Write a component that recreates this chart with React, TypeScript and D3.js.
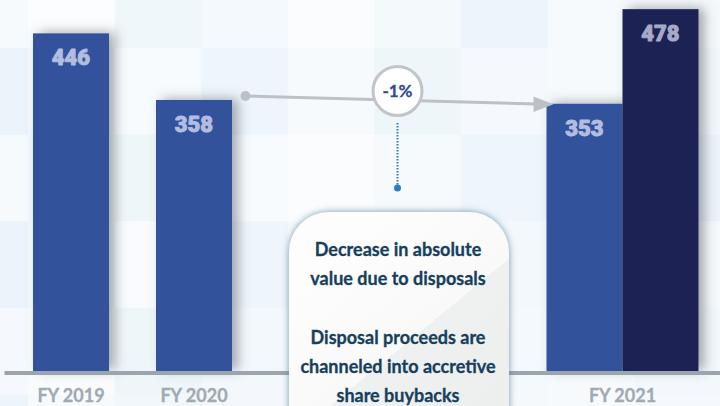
import React from 'react';
import * as d3 from 'd3';

// ---- data ----
const categories = ['FY 2019', 'FY 2020', 'FY 2021'];
const primaryValues = [446, 358, 353];
const secondaryValues = [null, null, 478];
const changeLabel = '-1%';
const noteLines = [
  'Decrease in absolute',
  'value due to disposals',
  '',
  'Disposal proceeds are',
  'channeled into accretive',
  'share buybacks',
];
const tileColors = [
  ['#f7fafd', '#fbfdfe', '#eff7fa', '#f3f9fc', '#fafcfe', '#f4f9fc', '#edf5fc', '#f7fafd', '#f5f9fc'],
  ['#eaf4fa', '#f5f9fc', '#f8fbfe', '#eef5fc', '#f7fafd', '#eff6fa', '#f5f9fd', '#f6fafd', '#f2f7fb'],
  ['#f6fafd', '#f3f8fc', '#eff6fa', '#f7fbfd', '#fafcfe', '#f6fafd', '#eef6fc', '#f7fafd', '#ecf3f9'],
  ['#eaf4fa', '#f4f9fc', '#f9fbfe', '#eef5fb', '#f6fafd', '#f2f8fc', '#f3f8fd', '#f6fafd', '#f6f9fc'],
  ['#f5f9fd', '#f9fbfd', '#eff6fa', '#f3f8fc', '#f6fafd', '#f2f7fb', '#f4f9fd', '#f7fafd', '#f3f8fc'],
  ['#edf5fa', '#f7fafd', '#f1f7fa', '#f4f8fc', '#f6fafd', '#f2f7fb', '#f5f9fc', '#f7fafd', '#f5f9fd'],
];

const W = 720;
const H = 406;
const BASE = 371;
const BAR_W = 76;

export default function App() {
  const y = d3.scaleLinear().domain([0, 500]).range([BASE, BASE - 378.5]);
  const xCenter = d3.scaleOrdinal<string, number>().domain(categories).range([71, 194, 622.5]);
  const inner = d3
    .scaleBand<string>()
    .domain(['primary', 'secondary'])
    .range([xCenter('FY 2021') - BAR_W, xCenter('FY 2021') + BAR_W])
    .padding(0);

  const tile = 86.6;
  const tx = d3.scaleLinear().domain([0, 1]).range([-58.6, -58.6 + tile]);
  const ty = d3.scaleLinear().domain([0, 1]).range([-38.6, -38.6 + tile]);

  type Bar = { key: string; x: number; w: number; v: number; fill: string; label: string };
  const bars: Bar[] = [];
  categories.forEach((c, i) => {
    const sv = secondaryValues[i];
    if (sv == null) {
      bars.push({ key: c, x: xCenter(c) - BAR_W / 2, w: BAR_W, v: primaryValues[i], fill: '#32529b', label: '#b4bde0' });
    } else {
      bars.push({ key: c + 'p', x: inner('primary')!, w: inner.bandwidth(), v: primaryValues[i], fill: '#32529b', label: '#b4bde0' });
      bars.push({ key: c + 's', x: inner('secondary')!, w: inner.bandwidth(), v: sv, fill: '#1d2352', label: '#a6a9c7' });
    }
  });

  const lineStart: [number, number] = [xCenter('FY 2020') + BAR_W / 2 + 13.5, y(358) - 4];
  const lineEnd: [number, number] = [inner('primary')! - 11, y(358) + 4];
  const circ = { cx: 397.5, cy: 91, r: 24.5 };

  return (
    <svg
      width={W}
      height={H}
      style={{ position: 'absolute', left: 0, top: 0, display: 'block' }}
      viewBox={`0 0 ${W} ${H}`}
    >
      <defs>
        <filter id="barShadow" x="-30%" y="-10%" width="170%" height="130%">
          <feDropShadow dx="6" dy="-1" stdDeviation="6" floodColor="#4b5560" floodOpacity="0.5" />
        </filter>
        <filter id="boxShadow" x="-20%" y="-20%" width="140%" height="140%">
          <feDropShadow dx="0" dy="0" stdDeviation="3.5" floodColor="#4f7d94" floodOpacity="0.8" />
        </filter>
        <linearGradient id="boxFill" gradientUnits="userSpaceOnUse" x1="346" y1="242" x2="494" y2="422">
          <stop offset="0" stopColor="#fdfdfd" />
          <stop offset="0.5" stopColor="#f9f9f9" />
          <stop offset="0.5" stopColor="#eff1f1" />
          <stop offset="1" stopColor="#edefef" />
        </linearGradient>
      </defs>

      {/* tiled background */}
      <rect x={0} y={0} width={W} height={H} fill="#f6fafd" />
      {tileColors.map((row, r) =>
        row.map((col, c) => (
          <rect key={`t${r}-${c}`} x={tx(c)} y={ty(r)} width={tile + 0.5} height={tile + 0.5} fill={col} />
        ))
      )}

      {/* bars */}
      {bars.map((b) => (
        <rect key={b.key} x={b.x} y={y(b.v)} width={b.w} height={BASE - y(b.v)} fill={b.fill} filter="url(#barShadow)" />
      ))}
      {bars.map((b) => (
        <text
          key={b.key + 'l'}
          x={b.x + b.w / 2}
          y={y(b.v) + 32}
          textAnchor="middle"
          fontFamily="Roboto, 'Liberation Sans', sans-serif"
          fontWeight={900}
          fontSize={22}
          fill={b.label}
          stroke={b.label}
          strokeWidth={0.9}
          strokeLinejoin="round"
        >
          {b.v}
        </text>
      ))}

      {/* axis */}
      <rect x={4.5} y={BASE} width={W} height={4} fill="#9ba5ad" />
      {categories.map((c) => (
        <text
          key={c + 'ax'}
          x={xCenter(c)}
          y={402}
          textAnchor="middle"
          fontFamily="Lato, 'Open Sans', sans-serif"
          fontWeight={700}
          fontSize={18}
          fill="#a0aab2"
          stroke="#a0aab2"
          strokeWidth={0.3}
        >
          {c}
        </text>
      ))}

      {/* change arrow */}
      <line x1={lineStart[0]} y1={lineStart[1]} x2={lineEnd[0]} y2={lineEnd[1]} stroke="#bcc1c7" strokeWidth={3} />
      <circle cx={lineStart[0]} cy={lineStart[1]} r={5} fill="#bcc1c7" />
      <path
        d={`M${lineEnd[0] - 2},${lineEnd[1] - 7.5} L${lineEnd[0] + 18},${lineEnd[1] + 0.3} L${lineEnd[0] - 2},${lineEnd[1] + 8}Z`}
        fill="#bcc1c7"
      />
      <circle cx={circ.cx} cy={circ.cy} r={circ.r} fill="#ffffff" stroke="#c1c5c9" strokeWidth={3} />
      <text
        x={circ.cx}
        y={circ.cy + 6}
        textAnchor="middle"
        fontFamily="Lato, 'Open Sans', sans-serif"
        fontWeight={700}
        fontSize={17}
        fill="#2f4d93"
        stroke="#2f4d93"
        strokeWidth={0.3}
      >
        {changeLabel}
      </text>
      <line
        x1={circ.cx}
        y1={123}
        x2={circ.cx}
        y2={185}
        stroke="#2a7fc4"
        strokeWidth={2}
        strokeDasharray="1.5 1.5"
      />
      <circle cx={circ.cx} cy={188} r={3.5} fill="#2a7fc4" />

      {/* note box */}
      <rect x={289} y={212} width={220} height={260} rx={40} ry={40} fill="url(#boxFill)" filter="url(#boxShadow)" />
      {noteLines.map((t, i) => (
        <text
          key={'n' + i}
          x={398}
          y={256 + i * 29.2}
          textAnchor="middle"
          fontFamily="Lato, 'Open Sans', sans-serif"
          fontWeight={700}
          fontSize={18}
          fill="#173f5d"
          stroke="#173f5d"
          strokeWidth={0.3}
        >
          {t}
        </text>
      ))}
    </svg>
  );
}
